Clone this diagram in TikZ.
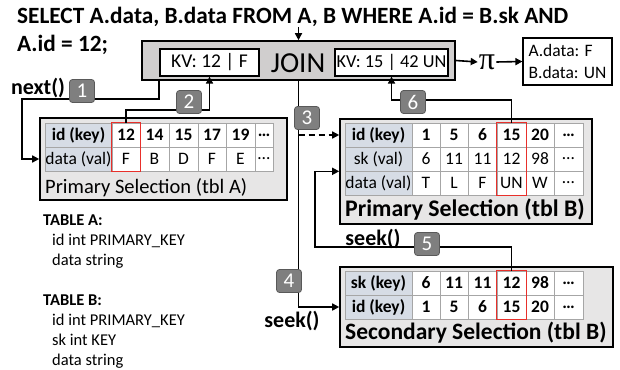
\documentclass[tikz,border=0pt]{standalone}
\usepackage{fontspec}
\setmainfont{Carlito}
\newfontfamily\pifont{Liberation Serif}
\usetikzlibrary{arrows.meta}
\definecolor{boxgray}{HTML}{E7E6E6}
\definecolor{joingray}{HTML}{D0CECE}
\definecolor{hdr}{HTML}{D6DCE5}
\definecolor{gridgray}{HTML}{A6A6A6}
\definecolor{badgefill}{HTML}{7F7F7F}
\definecolor{badgeline}{HTML}{595959}
\definecolor{selred}{HTML}{E8302B}
\newcommand\fsz[2]{\fontsize{#1}{#2}\selectfont}
\begin{document}
\begin{tikzpicture}[x=1pt,y=-1pt,
  outer/.style={draw=black, line width=1.6pt, fill=boxgray, inner sep=0},
  cell/.style={draw=gridgray, line width=0.6pt, fill=white, minimum height=24pt, inner sep=0, font=\fsz{17.5}{19}},
  hcell/.style={cell, fill=hdr, minimum width=67pt},
  kvbox/.style={draw=black, line width=1.2pt, fill=white, minimum height=27pt, inner sep=0},
  badge/.style={draw=badgeline, line width=0.8pt, fill=badgefill, rounded corners=3pt, text=white, minimum width=25pt, minimum height=23pt, inner sep=0, font=\fsz{21}{22}},
  conn/.style={line width=1.6pt, -{Triangle[length=7pt,width=7pt]}},
  wire/.style={line width=1.6pt},
  selbox/.style={draw=selred, line width=1.1pt},
  lbl/.style={font=\fsz{22}{24}\bfseries, inner sep=0},
  plain/.style={anchor=base west, inner sep=0, font=\fsz{16.5}{20}},
  caption/.style={anchor=west, inner sep=0}
]
\useasboundingbox (0,0) rectangle (620,369);

% title
\node[anchor=base west, inner sep=0, font=\fsz{23.3}{26}\bfseries] (title1) at (17,24) {SELECT A.data, B.data FROM A, B WHERE A.id = B.sk AND};
\node[anchor=base west, inner sep=0, font=\fsz{23.3}{26}\bfseries] (title2) at (17,52) {A.id = 12;};

% join box
\node[outer, fill=joingray, minimum width=313pt, minimum height=39pt] (join) at (298.5,60.5) {};
\node[kvbox, minimum width=99pt, font=\fsz{19.5}{20}] (kvL) at (209.5,62.5) {KV: 12 | F};
\node[kvbox, minimum width=113pt, font=\fsz{18.3}{19}] (kvR) at (391.5,62.5) {KV: 15 | 42 UN};
\node[inner sep=0, font=\fsz{29}{30}] (jointxt) at (298,63) {JOIN};
\node[inner sep=1pt, font=\pifont\fsz{32}{32}] (pi) at (487,62) {π};
\node[draw=black, line width=1.2pt, fill=white, minimum width=89pt, minimum height=47pt, align=left, inner sep=3pt, font=\fsz{17.5}{22}] (out) at (567.5,61.5) {A.data: F\\B.data: UN};
\coordinate (qin) at (298.5,27);

% outer boxes of tables
\node[outer, minimum width=247pt, minimum height=82pt] (boxA) at (163.5,159) {};
\node[outer, minimum width=252pt, minimum height=105pt] (boxB) at (466,171.5) {};
\node[outer, minimum width=273pt, minimum height=80pt] (boxS) at (476.5,307) {};

% table A
\node[hcell] (aH1) at (78.5,135) {\bfseries id (key)};
\node[hcell] (aH2) at (78.5,159) {data (val)};
\foreach \x/\w/\u/\v [count=\i] in {126/28/12/F, 154.5/29/14/B, 183.5/29/15/D, 212/28/17/F, 240.5/29/19/E, 264/18/\ldots/\ldots} {
  \node[cell, minimum width=\w] (a1-\i) at (\x,135) {\bfseries\u};
  \node[cell, minimum width=\w] (a2-\i) at (\x,159) {\v};
}
\node[caption, font=\fsz{20.5}{22}] (capA) at (45,187.5) {Primary Selection (tbl A)};

% table B primary
\node[hcell] (bH1) at (378.5,135) {\bfseries id (key)};
\node[hcell] (bH2) at (378.5,159) {sk (val)};
\node[hcell] (bH3) at (378.5,183) {data (val)};
\foreach \x/\w/\u/\v/\d [count=\i] in {426/28/1/6/T, 454/28/5/11/L, 482.5/29/6/11/F, 511.5/29/15/12/UN, 540/28/20/98/W, 568.5/29/\ldots/\ldots/\ldots} {
  \node[cell, minimum width=\w] (b1-\i) at (\x,135) {\bfseries\u};
  \node[cell, minimum width=\w] (b2-\i) at (\x,159) {\v};
  \node[cell, minimum width=\w] (b3-\i) at (\x,183) {\d};
}
\node[caption, font=\fsz{23.8}{25}\bfseries] (capB) at (345,210) {Primary Selection (tbl B)};

% secondary
\node[hcell] (sH1) at (378.5,283) {\bfseries sk (key)};
\node[hcell] (sH2) at (378.5,307) {\bfseries id (key)};
\foreach \x/\w/\u/\v [count=\i] in {426/28/6/1, 454/28/11/5, 482.5/29/11/6, 511.5/29/12/15, 540/28/98/20, 568.5/29/\ldots/\ldots} {
  \node[cell, minimum width=\w] (s1-\i) at (\x,283) {\bfseries\u};
  \node[cell, minimum width=\w] (s2-\i) at (\x,307) {\bfseries\v};
}
\node[caption, font=\fsz{23.5}{25}\bfseries] (capS) at (345,333) {Secondary Selection (tbl B)};

% selections
\draw[selbox] (a1-1.north west) rectangle (a2-1.south east);
\draw[selbox] (b1-4.north west) rectangle (b3-4.south east);
\draw[selbox] (s1-4.north west) rectangle (s2-4.south east);

% connectors
\coordinate (bend1) at (22,99);
\coordinate (bend5) at (315,247);
\draw[conn] (qin) -- (join.north);
\draw[conn] (join.east) -- (pi.west);
\draw[conn] (pi.east) -- (out.west);
\draw[conn] ([xshift=18pt]join.south west) |- (bend1) |- (boxA.west |- aH2);
\draw[conn] (a1-1.north) -- ++(0,-13) -| (kvL.south);
\draw[conn] (join.south) |- (boxS.west |- sH2);
\draw[conn, dash pattern=on 6pt off 4pt] (join.south |- bH1) -- (boxB.west |- bH1);
\draw[conn] (s1-4.north) |- (bend5) |- (boxB.west |- bH2.south);
\draw[conn] (b1-4.north) -- ++(0,-23) -| (kvR.south);

% labels
\node[lbl] (next) at (38,88) {next()};
\node[lbl, anchor=base] (seek1) at (373,245) {seek()};
\node[lbl, anchor=base] (seek2) at (292,327) {seek()};

% badges
\node[badge] (n1) at (82,91) {1};
\node[badge] (n2) at (189,102) {2};
\node[badge] (n3) at (307,118) {3};
\node[badge] (n4) at (289,281) {4};
\node[badge] (n5) at (427,244) {5};
\node[badge] (n6) at (413,102) {6};

% schema text
\node[plain, font=\fsz{16.5}{20}\bfseries] (ta) at (43,225) {TABLE A:};
\node[plain] (ta1) at (52,245) {id int PRIMARY\_KEY};
\node[plain] (ta2) at (52,265) {data string};
\node[plain, font=\fsz{16.5}{20}\bfseries] (tb) at (43,305) {TABLE B:};
\node[plain] (tb1) at (52,325) {id int PRIMARY\_KEY};
\node[plain] (tb2) at (52,345) {sk int KEY};
\node[plain] (tb3) at (52,365) {data string};
\end{tikzpicture}
\end{document}
